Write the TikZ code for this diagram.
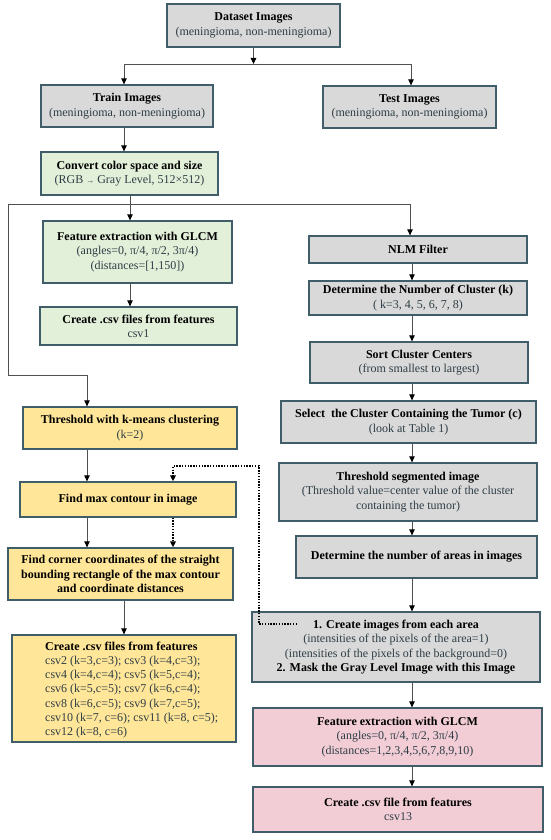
\documentclass[tikz,border=0pt]{standalone}
\usepackage{fontspec}
\setmainfont{Liberation Serif}
\usetikzlibrary{arrows.meta,calc}
\definecolor{bordc}{HTML}{3F5E69}
\definecolor{grayf}{HTML}{D9D9D9}
\definecolor{greenf}{HTML}{E2EFD9}
\definecolor{yellowf}{HTML}{FFE699}
\definecolor{pinkf}{HTML}{F2CDD6}
\definecolor{txtc}{HTML}{2E3D45}
\definecolor{linec}{HTML}{505050}
\newcommand\tbf[1]{{\bfseries\color{black}#1}}
\newcommand\bx[7]{\node[#1, minimum width={#4-#3}, minimum height={#6-#5}] (#2) at ({(#3+#4)/2},{(#5+#6)/2}) {#7};}
\begin{document}
\begin{tikzpicture}[x=1pt,y=-1pt,
 box/.style={draw=bordc, line width=1.3pt, align=center, inner sep=1pt, text=txtc, font=\fontsize{12}{14.3}\selectfont},
 gbox/.style={box, fill=grayf},
 grbox/.style={box, fill=greenf},
 ybox/.style={box, fill=yellowf},
 pbox/.style={box, fill=pinkf},
 conn/.style={draw=linec, line width=0.9pt},
 arr/.style={conn, -{Triangle[length=6pt,width=5.5pt,color=black]}},
 dotc/.style={draw=black, line width=1.6pt, dash pattern=on 1.4pt off 1.4pt},
 dotarr/.style={dotc, -{Triangle[length=6pt,width=5.5pt]}},
 plain/.style={align=left, inner sep=0pt, text=txtc, font=\fontsize{12}{14.3}\selectfont},
]
\useasboundingbox (0,0) rectangle (550,840);
\fill[white] (0,0) rectangle (550,840);

\bx{gbox}{ds}{167}{340}{4}{47}{\tbf{Dataset Images}\\(meningioma, non-meningioma)}
\bx{gbox}{train}{41}{213}{85}{127}{\tbf{Train Images}\\(meningioma, non-meningioma)}
\bx{gbox}{test}{323}{496}{86}{128}{\tbf{Test Images}\\(meningioma, non-meningioma)}
\bx{grbox}{conv}{41}{218}{152}{195}{\tbf{Convert color space and size}\\(RGB {\footnotesize →} Gray Level, 512×512)}
\bx{grbox}{feat}{43}{232}{221}{283}{\tbf{Feature extraction with GLCM}\\(angles=0, π/4, π/2, 3π/4)\\(distances=[1,150])}
\bx{grbox}{csva}{40}{237}{307}{345}{\tbf{Create .csv files from features}\\csv1}
\bx{gbox}{nlm}{309}{527}{236}{263}{\tbf{NLM Filter}}
\bx{gbox}{detk}{309}{527}{281}{315}{\tbf{Determine the Number of Cluster (k)}\\( k=3, 4, 5, 6, 7, 8)}
\bx{gbox}{sort}{310}{528}{342}{383}{\tbf{Sort Cluster Centers}\\(from smallest to largest)}
\bx{gbox}{sel}{281}{536}{401}{443}{\tbf{Select\ \ the Cluster Containing the Tumor (c)}\\(look at Table 1)}
\bx{gbox}{thr}{279}{537}{463}{521}{\tbf{Threshold segmented image}\\(Threshold value=center value of the cluster\\containing the tumor)}
\bx{gbox}{areas}{296}{537}{536}{578}{\tbf{Determine the number of areas in images}}
\bx{gbox}{crt}{252}{540}{612}{682}{\tbf{1. Create images from each area}\\(intensities of the pixels of the area=1)\\(intensities of the pixels of the background=0)\\\tbf{2. Mask the Gray Level Image with this Image}}
\bx{pbox}{pfeat}{253}{542}{708}{766}{\tbf{Feature extraction with GLCM}\\(angles=0, π/4, π/2, 3π/4)\\(distances=1,2,3,4,5,6,7,8,9,10)}
\bx{pbox}{csvb}{253}{543}{787}{832}{\tbf{Create .csv file from features}\\csv13}
\bx{ybox}{km}{23}{237}{407}{449}{\tbf{Threshold with k-means clustering}\\(k=2)}
\bx{ybox}{maxc}{20}{236}{482}{517}{\tbf{Find max contour in image}}
\bx{ybox}{corner}{8}{233}{548}{600}{\tbf{Find corner coordinates of the straight}\\\tbf{bounding rectangle of the max contour}\\\tbf{and coordinate distances}}
\bx{ybox}{csvy}{12}{236}{635}{742}{}
\node[plain, anchor=west] (csvyt) at (45,690) {\tbf{Create .csv files from features}\\csv2 (k=3,c=3); csv3 (k=4,c=3);\\csv4 (k=4,c=4); csv5 (k=5,c=4);\\csv6 (k=5,c=5); csv7 (k=6,c=4);\\csv8 (k=6,c=5); csv9 (k=7,c=5);\\csv10 (k=7, c=6); csv11 (k=8, c=5);\\csv12 (k=8, c=6)};

% top split
\coordinate (tl) at (124,64);
\coordinate (tr) at (411,64);
\draw[arr] (ds.south) -- (ds.south |- tl);
\draw[conn] (tl) -- (tr);
\draw[arr] (tl) -- (tl |- train.north);
\draw[arr] (tr) -- (tr |- test.north);
\draw[arr] (tl |- train.south) -- (tl |- conv.north);

% branch after convert
\coordinate (b0) at (130,204);
\coordinate (bl) at (8,204);
\coordinate (br) at (410,204);
\coordinate (lk) at (87,375);
\draw[conn] (b0 |- conv.south) -- (b0);
\draw[conn] (bl) -- (br);
\draw[arr] (br) -- (br |- nlm.north);
\draw[arr] (b0) -- (b0 |- feat.north);
\draw[arr] (b0 |- feat.south) -- (b0 |- csva.north);
\draw[arr] (bl) |- (lk) -- (lk |- km.north);

% right column
\coordinate (rc) at (412,0);
\draw[arr] (rc |- nlm.south) -- (rc |- detk.north);
\draw[arr] (rc |- detk.south) -- (rc |- sort.north);
\draw[arr] (rc |- sort.south) -- (rc |- sel.north);
\draw[arr] (rc |- sel.south) -- (rc |- thr.north);
\draw[arr] (rc |- thr.south) -- (rc |- areas.north);
\draw[arr] (rc |- areas.south) -- (rc |- crt.north);
\draw[arr] (rc |- crt.south) -- (rc |- pfeat.north);
\draw[arr] (rc |- pfeat.south) -- (rc |- csvb.north);

% left column
\coordinate (lc) at (87,0);
\coordinate (lc2) at (124,0);
\draw[arr] (lc |- km.south) -- (lc |- maxc.north);
\draw[arr] (lc |- maxc.south) -- (lc |- corner.north);
\draw[arr] (lc2 |- corner.south) -- (lc2 |- csvy.north);

% dotted feedback
\coordinate (d0) at (297,624);
\coordinate (d1) at (259,466);
\coordinate (dx) at (173,0);
\draw[dotarr] (d0) -- (d0 -| d1) -- (d1) -- (d1 -| dx) -- (dx |- maxc.north);
\draw[dotarr] (dx |- maxc.south) -- (dx |- corner.north);
\end{tikzpicture}
\end{document}
